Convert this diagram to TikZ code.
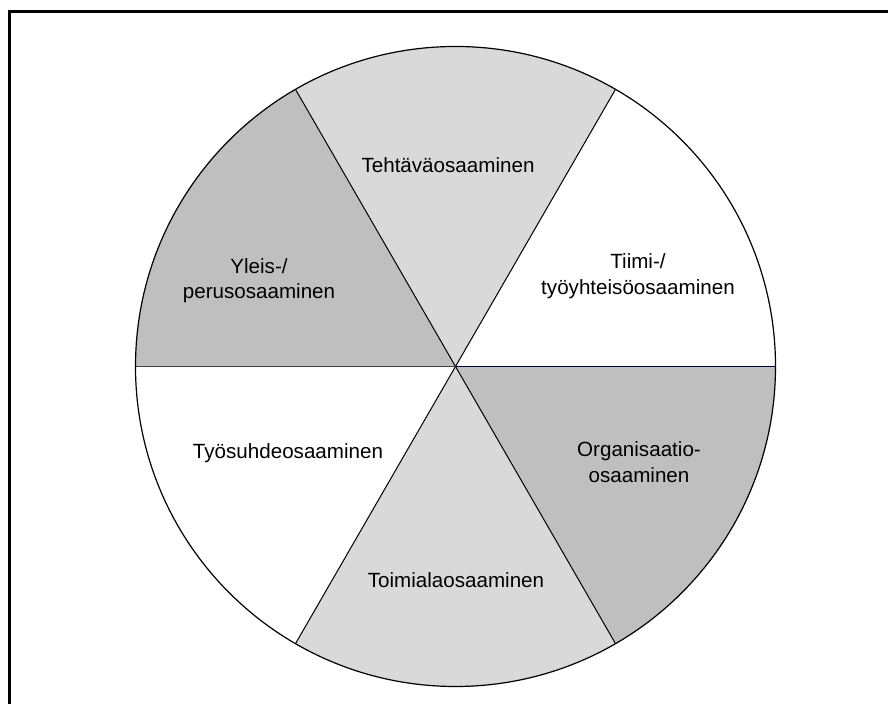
\documentclass[tikz,border=0pt]{standalone}
\usepackage{fontspec}
\setmainfont{Liberation Sans}
\usepackage{tikz}
\colorlet{colorLight}{black!15}
\colorlet{colorDark}{black!25}
\definecolor{colorEdge}{HTML}{000033}
\definecolor{colorSplit}{HTML}{404040}
\tikzset{
  label/.style={align=center, font=\fontsize{10.3}{12.8}\selectfont},
  spoke/.style={black, line width=0.5pt},
}

\begin{document}
\begin{tikzpicture}[x=0.5pt, y=0.5pt]
\useasboundingbox (0,0) rectangle (888,704);
\coordinate (c) at (455.5,337.5);
% frame
\draw[line width=1.5pt] (9.5,0) -- (9.5,692.5) -- (888,692.5);
% sectors
\fill[white] (c) -- ++(0:320) arc (0:60:320) -- cycle;
\fill[colorLight] (c) -- ++(60:320) arc (60:120:320) -- cycle;
\fill[colorDark] (c) -- ++(120:320) arc (120:180:320) -- cycle;
\fill[white] (c) -- ++(180:320) arc (180:240:320) -- cycle;
\fill[colorLight] (c) -- ++(240:320) arc (240:300:320) -- cycle;
\fill[colorDark] (c) -- ++(300:320) arc (300:360:320) -- cycle;
\draw[spoke] (c) -- ++(60:320);
\draw[spoke] (c) -- ++(120:320);
\draw[spoke] (c) -- ++(240:320);
\draw[spoke] (c) -- ++(300:320);
\draw[colorSplit, line width=0.75pt] (c) -- ++(180:320);
\draw[colorEdge, line width=0.75pt] (c) -- ++(0:320);
\draw[line width=0.6pt] (c) circle (320);
% labels
\node[label] (tehtava) at (448,539) {Tehtäväosaaminen};
\node[label] (yleis) at (259,423.5) {Yleis-/\\perusosaaminen};
\node[label] (tiimi) at (638,428) {Tiimi-/\\työyhteisöosaaminen};
\node[label] (tyosuhde) at (288,251) {Työsuhdeosaaminen};
\node[label] (organisaatio) at (639,242) {Organisaatio-\\osaaminen};
\node[label] (toimiala) at (456,124) {Toimialaosaaminen};
\end{tikzpicture}
\end{document}
